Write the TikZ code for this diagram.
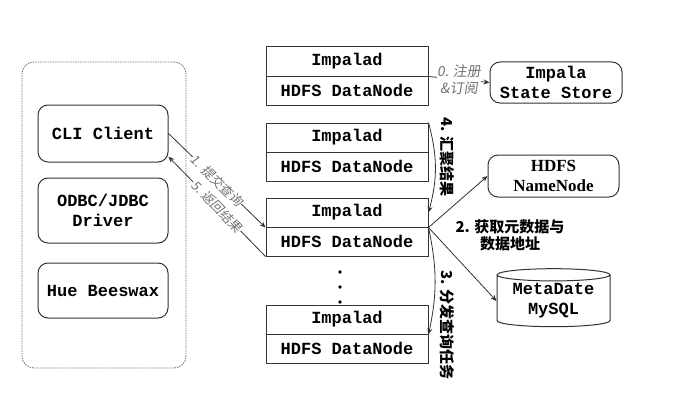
\documentclass[tikz,border=0pt]{standalone}
\usepackage{fontspec}
\setmonofont{Liberation Mono}
\newfontfamily\cjk{Noto Sans CJK SC}
\newfontfamily\cjkslant[FakeSlant=0.15]{Noto Sans CJK SC}
\newfontfamily\nnfont{Liberation Serif}
\usetikzlibrary{arrows.meta, shapes.geometric, calc}

\tikzset{
  cell/.style={draw=black!80, line width=1pt, minimum width=162pt, minimum height=29pt, inner sep=0pt,
    font=\ttfamily\bfseries\fontsize{17}{20}\selectfont},
  client/.style={draw=black!80, line width=1pt, rounded corners=10pt, minimum width=130pt, inner sep=0pt,
    align=center, font=\ttfamily\bfseries\fontsize{17}{20}\selectfont},
  service/.style={client},
  flow/.style={-{Stealth[length=6pt,width=5pt]}, black!80, line width=0.8pt},
  tag/.style={font=\cjkslant\fontsize{13}{16}\selectfont, text=black!55, fill=white, inner sep=0.5pt, align=center},
  steptag/.style={font=\cjk\bfseries\fontsize{15}{17}\selectfont, inner sep=0pt, align=center}
}

\begin{document}
\begin{tikzpicture}[x=1pt, y=-1pt]
\useasboundingbox (0,0) rectangle (677,412);

\node[draw=black!55, line width=0.8pt, dash pattern=on 1.5pt off 1pt, rounded corners=12pt,
  minimum width=164pt, minimum height=306pt] (clients) at (104,215) {};
\node[client, minimum height=57pt] (cli) at (103,133.5) {CLI Client};
\node[client, minimum height=65pt] (odbc) at (103,210.5) {ODBC/JDBC\\Driver};
\node[client, minimum height=55pt] (hue) at (103,290.5) {Hue Beeswax};

\foreach \n/\t in {1/47,2/123,3/198,4/305}{
  \node[cell] (imp\n) at (347,\t+14.5) {Impalad};
  \node[cell] (hdfs\n) at (347,\t+43.5) {HDFS DataNode};
}
\foreach \y in {272,287,302}
  \fill (340,\y) circle (1.8pt);

\node[service, minimum width=132pt, minimum height=41pt] (store) at (556,82.5) {Impala\\State Store};
\node[service, minimum width=131pt, minimum height=42pt, font=\nnfont\bfseries\fontsize{17}{20}\selectfont] (nn) at (553.5,176) {HDFS\\NameNode};
\node[cylinder, shape border rotate=90, aspect=0.15, draw=black!80, line width=1pt, inner sep=0pt,
  minimum width=113pt, minimum height=58pt, align=center,
  font=\ttfamily\bfseries\fontsize{17}{20}\selectfont] (db) at (553.5,301) {MetaDate\\MySQL};

\draw[flow] (imp1.south east) -- (store.west) node[tag, midway, font=\cjkslant\fontsize{14}{17}\selectfont] {0. 注册\\\&订阅};
\draw[flow] (cli.east) -- (imp3.south west) node[tag, midway, sloped] {1. 提交查询};
\draw[flow] (hdfs3.south west) -- ($(cli.east)!0.8!(cli.south east)$) node[tag, midway, sloped] {5. 返回结果};
\draw[flow] (imp3.south east) -- (nn.west);
\draw[flow] (imp3.south east) -- (db.west);
\node[steptag] (lbl2) at (510,235) {2. 获取元数据与\\数据地址};
\draw[flow] (imp2.north east) to[bend left=15] (imp3.east);
\node[steptag, rotate=-90] (lbl4) at (447,157) {4. 汇聚结果};
\draw[flow] (imp3.south east) to[bend left=12] (imp4.south east);
\node[steptag, rotate=-90] (lbl3) at (447,325) {3. 分发查询任务};
\end{tikzpicture}
\end{document}
